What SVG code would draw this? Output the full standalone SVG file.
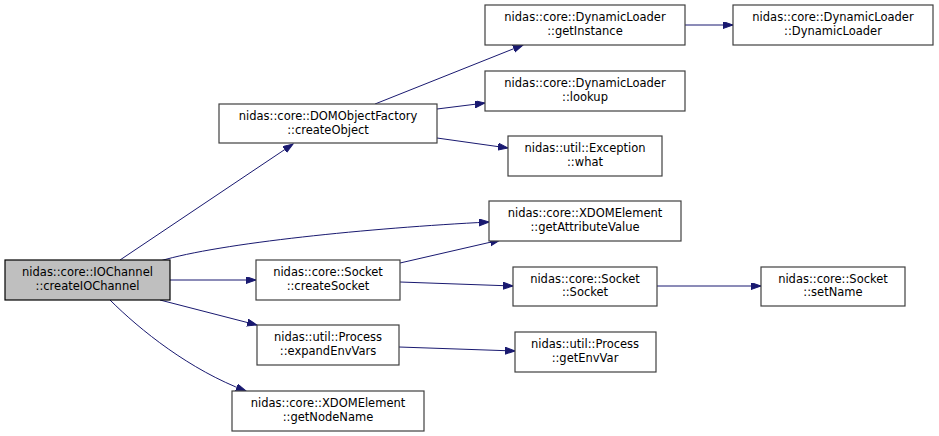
<svg xmlns="http://www.w3.org/2000/svg" width="939" height="436" viewBox="0 0 939 436">
<style>
.n rect{fill:#fff;stroke:#404040;stroke-width:1.2}
.root rect{fill:#bfbfbf;stroke:#000}
text{font-family:"DejaVu Sans","Liberation Sans",sans-serif;font-size:11.5px;fill:#000;text-anchor:middle}
.e path{fill:none;stroke:#191970;stroke-width:1}
</style>
<defs>
<marker id="a" markerUnits="userSpaceOnUse" markerWidth="11" markerHeight="8" refX="10" refY="3.5" orient="auto">
<path d="M0,0 L10,3.5 L0,7 z" fill="#191970" stroke="#191970"/>
</marker>
</defs>
<rect width="939" height="436" fill="#fff"/>
<g class="e">
<path d="M120,260 L293,144" marker-end="url(#a)"/>
<path d="M160,261 C220,243 370,228 489,222" marker-end="url(#a)"/>
<path d="M170,280 L256,280" marker-end="url(#a)"/>
<path d="M160,300 L257,325" marker-end="url(#a)"/>
<path d="M110,300 C140,330 190,370 246,391" marker-end="url(#a)"/>
<path d="M375,104 L523,45" marker-end="url(#a)"/>
<path d="M437,109 L485,103" marker-end="url(#a)"/>
<path d="M437,138 L508,148" marker-end="url(#a)"/>
<path d="M685,25 L733,25" marker-end="url(#a)"/>
<path d="M400,263 L500,240" marker-end="url(#a)"/>
<path d="M400,282 L513,286" marker-end="url(#a)"/>
<path d="M657,286 L761,286" marker-end="url(#a)"/>
<path d="M399,347 L515,351" marker-end="url(#a)"/>
</g>
<g id="n_createIOChannel" class="n root"><rect x="5" y="260" width="165" height="40"/><text x="87.5" y="276">nidas::core::IOChannel</text><text x="87.5" y="289.5">::createIOChannel</text></g>
<g id="n_createObject" class="n"><rect x="219" y="104" width="218" height="39"/><text x="328" y="120">nidas::core::DOMObjectFactory</text><text x="328" y="133.5">::createObject</text></g>
<g id="n_getInstance" class="n"><rect x="485" y="5" width="200" height="40"/><text x="585" y="21">nidas::core::DynamicLoader</text><text x="585" y="34.5">::getInstance</text></g>
<g id="n_DynamicLoader" class="n"><rect x="733" y="5" width="200" height="40"/><text x="833" y="21">nidas::core::DynamicLoader</text><text x="833" y="34.5">::DynamicLoader</text></g>
<g id="n_lookup" class="n"><rect x="485" y="71" width="200" height="40"/><text x="585" y="87">nidas::core::DynamicLoader</text><text x="585" y="100.5">::lookup</text></g>
<g id="n_what" class="n"><rect x="508" y="136" width="154" height="40"/><text x="585" y="152">nidas::util::Exception</text><text x="585" y="165.5">::what</text></g>
<g id="n_getAttributeValue" class="n"><rect x="489" y="201" width="192" height="40"/><text x="585" y="217">nidas::core::XDOMElement</text><text x="585" y="230.5">::getAttributeValue</text></g>
<g id="n_createSocket" class="n"><rect x="256" y="260" width="144" height="40"/><text x="328" y="276">nidas::core::Socket</text><text x="328" y="289.5">::createSocket</text></g>
<g id="n_Socket" class="n"><rect x="513" y="267" width="144" height="39"/><text x="585" y="282.5">nidas::core::Socket</text><text x="585" y="296">::Socket</text></g>
<g id="n_setName" class="n"><rect x="761" y="267" width="144" height="39"/><text x="833" y="282.5">nidas::core::Socket</text><text x="833" y="296">::setName</text></g>
<g id="n_expandEnvVars" class="n"><rect x="257" y="325" width="142" height="40"/><text x="328" y="341">nidas::util::Process</text><text x="328" y="354.5">::expandEnvVars</text></g>
<g id="n_getEnvVar" class="n"><rect x="515" y="332" width="141" height="40"/><text x="585" y="348">nidas::util::Process</text><text x="585" y="361.5">::getEnvVar</text></g>
<g id="n_getNodeName" class="n"><rect x="232" y="391" width="192" height="40"/><text x="328" y="407">nidas::core::XDOMElement</text><text x="328" y="420.5">::getNodeName</text></g>
</svg>
